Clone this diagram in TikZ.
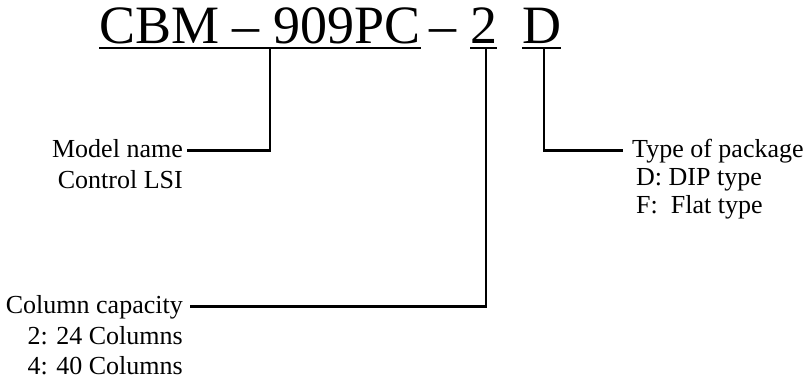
\documentclass[tikz,border=0pt]{standalone}
\usepackage{fontspec}
\setmainfont{Liberation Serif}
\begin{document}
\begin{tikzpicture}[x=1pt,y=1pt,
  title/.style={inner sep=0pt, anchor=base west, font=\fontsize{54}{60}\selectfont},
  lbl/.style={inner sep=0pt, text height=19pt, text depth=6pt, font=\fontsize{26}{30}\selectfont},
  conn/.style={line width=2.3pt},
  uline/.style={line width=2.2pt}
]
\useasboundingbox (0,0) rectangle (811,-383);
% title parts
\node[title] (t1) at (99,-43) {CBM – 909PC};
\node[title] (t2) at (429,-43) {–};
\node[title] (t3) at (470,-43) {2};
\node[title] (t4) at (522,-43) {D};
\draw[uline] ([yshift=-5pt]t1.base west) -- ([yshift=-5pt]t1.base east);
\draw[uline] ([yshift=-5pt]t3.base west) -- ([yshift=-5pt]t3.base east);
\draw[uline] ([yshift=-5pt]t4.base west) -- ([yshift=-5pt]t4.base east);
% labels
\node[lbl,anchor=base east] (mn) at (183,-157) {Model name};
\node[lbl,anchor=base east] (cl) at (183,-188) {Control LSI};
\node[lbl,anchor=base west] (tp) at (632,-157) {Type of package};
\node[lbl,anchor=base west] (dd) at (636,-185) {D: DIP type};
\node[lbl,anchor=base west] (ff) at (636,-213) {F:\ \ Flat type};
\node[lbl,anchor=base east] (cc) at (183,-313) {Column capacity};
\node[lbl,anchor=base east] (c2) at (183,-344) {2: 24 Columns};
\node[lbl,anchor=base east] (c4) at (183,-374) {4: 40 Columns};
% connectors
\coordinate (u1) at (270,-48);
\coordinate (u3) at (486,-48);
\coordinate (u4) at (544,-48);
\draw[conn] (u1) |- ([xshift=4pt]mn.east);
\draw[conn] (u3) |- ([xshift=7pt]cc.east);
\draw[conn] (u4) |- ([xshift=-9pt]tp.west);
\end{tikzpicture}
\end{document}
